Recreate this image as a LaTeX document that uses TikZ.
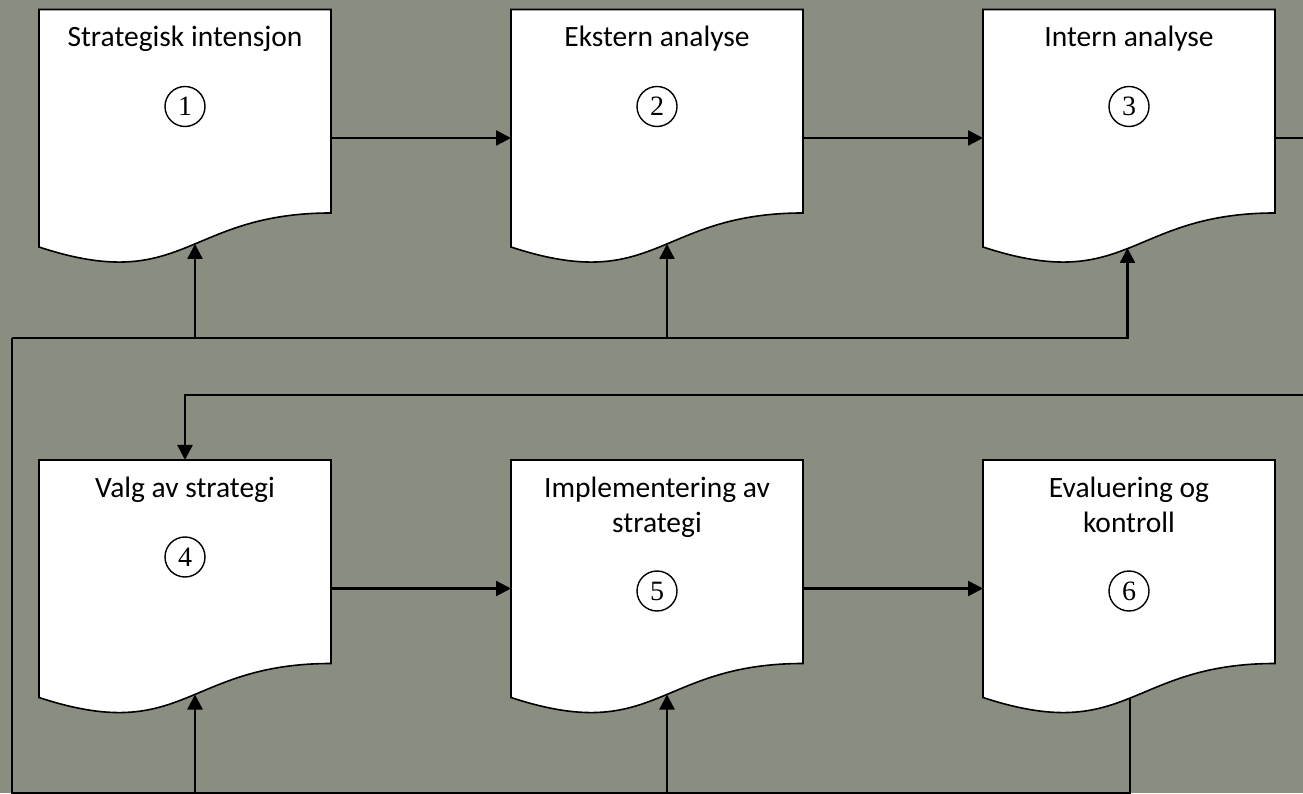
\documentclass[tikz,border=0pt]{standalone}
\usepackage{fontspec}
\setmainfont{Carlito}
\newfontfamily\numfont{Liberation Serif}
\usetikzlibrary{arrows.meta}
\definecolor{bgcol}{RGB}{138,142,128}
\tikzset{
 docbox/.style={minimum width=292pt, minimum height=203.5pt, inner sep=0pt, outer sep=0pt},
 docline/.style={draw=black, line width=1.6pt, fill=white, line join=miter},
 titletext/.style={anchor=north, inner sep=0pt, align=center, font=\fontsize{29.5}{35}\selectfont},
 numcirc/.style={circle, draw=black, line width=1.4pt, minimum size=40pt, inner sep=0pt, font=\numfont\fontsize{28}{28}\selectfont},
 conn/.style={draw=black, line width=2.4pt},
 arr/.style={conn, -{Triangle[length=15pt,width=15pt]}},
}
\newcommand\docshape[1]{\draw[docline] (#1.north west) -- (#1.north east) -- (#1.south east) .. controls ([xshift=-146pt]#1.south east) and ([xshift=-146pt,yshift=-82pt]#1.south east) .. ([yshift=-34pt]#1.south west) -- cycle;}
\begin{document}
\begin{tikzpicture}[x=1pt,y=1pt]
\fill[bgcol] (0,0) rectangle (1303,793);
\useasboundingbox (0,0) rectangle (1303,793);
\clip (0,0) rectangle (1303,793);
% boxes (rectangular part)
\node[docbox] (b1) at (185,681.75) {};
\node[docbox] (b2) at (657,681.75) {};
\node[docbox] (b3) at (1129,681.75) {};
\node[docbox] (b4) at (185,231.25) {};
\node[docbox] (b5) at (657,231.25) {};
\node[docbox] (b6) at (1129,231.25) {};
\docshape{b1}\docshape{b2}\docshape{b3}\docshape{b4}\docshape{b5}\docshape{b6}
% titles
\node[titletext] (t1) at ([yshift=-12.5pt]b1.north) {\strut Strategisk intensjon};
\node[titletext] (t2) at ([yshift=-12.5pt]b2.north) {\strut Ekstern analyse};
\node[titletext] (t3) at ([yshift=-12.5pt]b3.north) {\strut Intern analyse};
\node[titletext] (t4) at ([yshift=-12.5pt]b4.north) {\strut Valg av strategi};
\node[titletext] (t5) at ([yshift=-12.5pt]b5.north) {\strut Implementering av\\\strut strategi};
\node[titletext] (t6) at ([yshift=-12.5pt]b6.north) {\strut Evaluering og\\\strut kontroll};
% numbers
\node[numcirc] (n1) at ([yshift=-97pt]b1.north) {1};
\node[numcirc] (n2) at ([yshift=-97pt]b2.north) {2};
\node[numcirc] (n3) at ([yshift=-97pt]b3.north) {3};
\node[numcirc] (n4) at ([yshift=-97pt]b4.north) {4};
\node[numcirc] (n5) at ([yshift=-131pt]b5.north) {5};
\node[numcirc] (n6) at ([yshift=-131pt]b6.north) {6};
% entry points on the wavy bottoms
\coordinate (in1) at ([xshift=10pt,yshift=-31pt]b1.south);
\coordinate (in2) at ([xshift=10pt,yshift=-31pt]b2.south);
\coordinate (in3) at ([xshift=-1.5pt,yshift=-35pt]b3.south);
\coordinate (in4) at ([xshift=10pt,yshift=-31pt]b4.south);
\coordinate (in5) at ([xshift=10pt,yshift=-31pt]b5.south);
\coordinate (out6) at ([xshift=1pt,yshift=-34.5pt]b6.south);
% helper coordinates
\coordinate (r1) at (1320,655);
\coordinate (r2) at (1320,398);
\coordinate (botL) at (12,0);
\coordinate (midL) at (12,455);
% forward flow
\draw[arr] ([yshift=-128.5pt]b1.north east) -- ([yshift=-128.5pt]b2.north west);
\draw[arr] ([yshift=-128.5pt]b2.north east) -- ([yshift=-128.5pt]b3.north west);
\draw[arr] ([yshift=-128.5pt]b3.north east) -- (r1) -- (r2) -| (b4.north);
\draw[arr] ([yshift=-128.5pt]b4.north east) -- ([yshift=-128.5pt]b5.north west);
\draw[arr] ([yshift=-128.5pt]b5.north east) -- ([yshift=-128.5pt]b6.north west);
% feedback
\draw[conn] (out6) |- (botL) -- (midL);
\draw[arr] (midL) -| (in3);
\draw[arr] (in1 |- midL) -- (in1);
\draw[arr] (in2 |- midL) -- (in2);
\draw[arr] (in4 |- botL) -- (in4);
\draw[arr] (in5 |- botL) -- (in5);
\end{tikzpicture}
\end{document}
